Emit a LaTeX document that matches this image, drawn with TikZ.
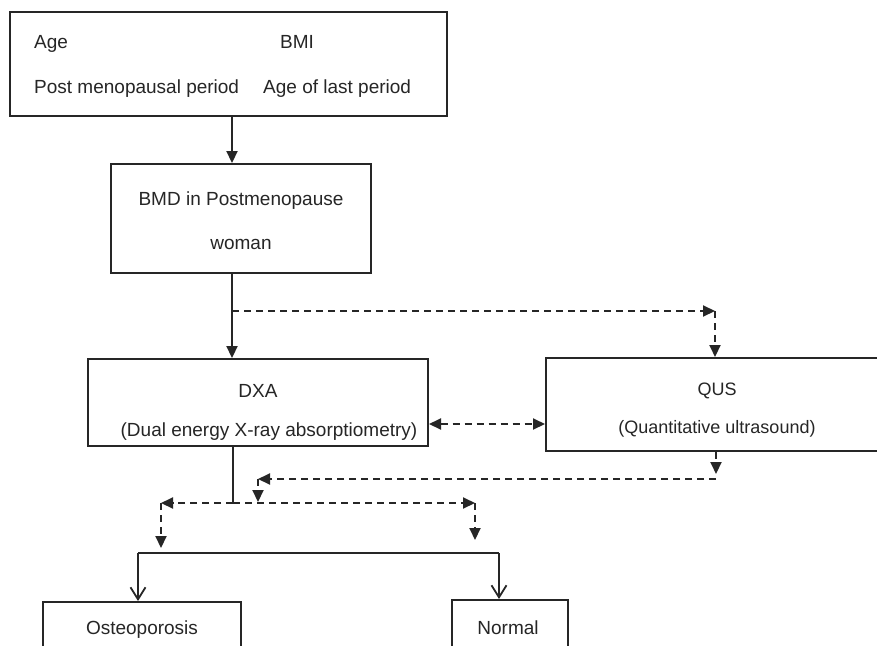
\documentclass[tikz,border=0pt]{standalone}
\usepackage{fontspec}
\setmainfont{Liberation Sans}
\usetikzlibrary{arrows.meta}
\definecolor{ink}{HTML}{262626}
\begin{document}
\begin{tikzpicture}[x=1pt,y=-1pt,
  box/.style={draw=ink, line width=2pt, rectangle, inner sep=0pt},
  txt/.style={text=ink, inner sep=0pt, font=\fontsize{19}{22}\selectfont},
  solidln/.style={draw=ink, line width=2.2pt},
  dashedln/.style={draw=ink, line width=2pt, dash pattern=on 7pt off 5pt},
  tri/.style={-{Triangle[length=12pt,width=11pt]}},
  bitri/.style={{Triangle[length=12pt,width=11pt]}-{Triangle[length=12pt,width=11pt]}},
  barb/.style={-{Straight Barb[length=12pt,width=15pt,line width=1.8pt]}}
]
\useasboundingbox (0,0) rectangle (877,645);
\clip (0,0) rectangle (877,645);
\fill[white] (0,0) rectangle (877,645);

% boxes
\node[box, minimum width=437pt, minimum height=104pt] (top) at (228.5,64) {};
\node[box, minimum width=260pt, minimum height=109pt] (bmd) at (241,218.5) {};
\node[box, minimum width=340pt, minimum height=87pt] (dxa) at (258,402.5) {};
\node[box, minimum width=350pt, minimum height=93pt, anchor=north west] (qus) at (545,357) {};
\node[box, minimum width=198pt, minimum height=80pt, anchor=north west] (ost) at (42,601) {};
\node[box, minimum width=116pt, minimum height=80pt, anchor=north west] (nor) at (451,599) {};

% texts
\node[txt, anchor=base west] (age) at (34,48) {Age};
\node[txt, anchor=base west] (bmi) at (280,48) {BMI};
\node[txt, anchor=base west] (pmp) at (34,93) {Post menopausal period};
\node[txt, anchor=base west] (alp) at (263,93) {Age of last period};
\node[txt, anchor=base] (bmdt1) at (241,205) {BMD in Postmenopause};
\node[txt, anchor=base] (bmdt2) at (241,249) {woman};
\node[txt, anchor=base] (dxat1) at (258,397) {DXA};
\node[txt, anchor=base] (dxat2) at (269,436) {(Dual energy X-ray absorptiometry)};
\node[txt, anchor=base, font=\fontsize{18}{22}\selectfont] (qust1) at (717,395) {QUS};
\node[txt, anchor=base, font=\fontsize{18}{22}\selectfont] (qust2) at (717,433) {(Quantitative ultrasound)};
\node[txt, anchor=base] (ostt) at (142,634) {Osteoporosis};
\node[txt, anchor=base] (nort) at (508,634) {Normal};

% junction coordinates
\coordinate (b1) at (232,311);
\coordinate (c1) at (715,311);
\coordinate (q1) at (716,474);
\coordinate (q2) at (716,479);
\coordinate (q3) at (258,479);
\coordinate (q4) at (258,502);
\coordinate (d1) at (233,503);
\coordinate (l1) at (161,503);
\coordinate (l2) at (161,548);
\coordinate (r1) at (475,503);
\coordinate (r2) at (475,540);
\coordinate (h1) at (138,553);
\coordinate (h2) at (499,553);

% solid connectors
\draw[solidln, tri] (top.south -| b1) -- (bmd.north -| b1);
\draw[solidln, tri] (bmd.south -| b1) -- (dxa.north -| b1);
\draw[solidln] (dxa.south -| d1) -- (d1);
\draw[solidln] (h1) -- (h2);
\draw[solidln, barb] (h1) -- (ost.north -| h1);
\draw[solidln, barb] (h2) -- (nor.north -| h2);

% dashed connectors
\draw[dashedln, tri] (b1) -- (c1);
\draw[dashedln, tri] (c1) -- (qus.north -| c1);
\draw[dashedln, bitri] (dxa.east |- 0,424) -- (qus.west |- 0,424);
\draw[dashedln, tri] (qus.south -| q1) -- (q1);
\draw[dashedln, tri] (q2) -- (q3);
\draw[dashedln, tri] (q3) -- (q4);
\draw[dashedln, tri] (d1) -- (l1);
\draw[dashedln, tri] (l1) -- (l2);
\draw[dashedln, tri] (d1) -- (r1);
\draw[dashedln, tri] (r1) -- (r2);
\end{tikzpicture}
\end{document}
